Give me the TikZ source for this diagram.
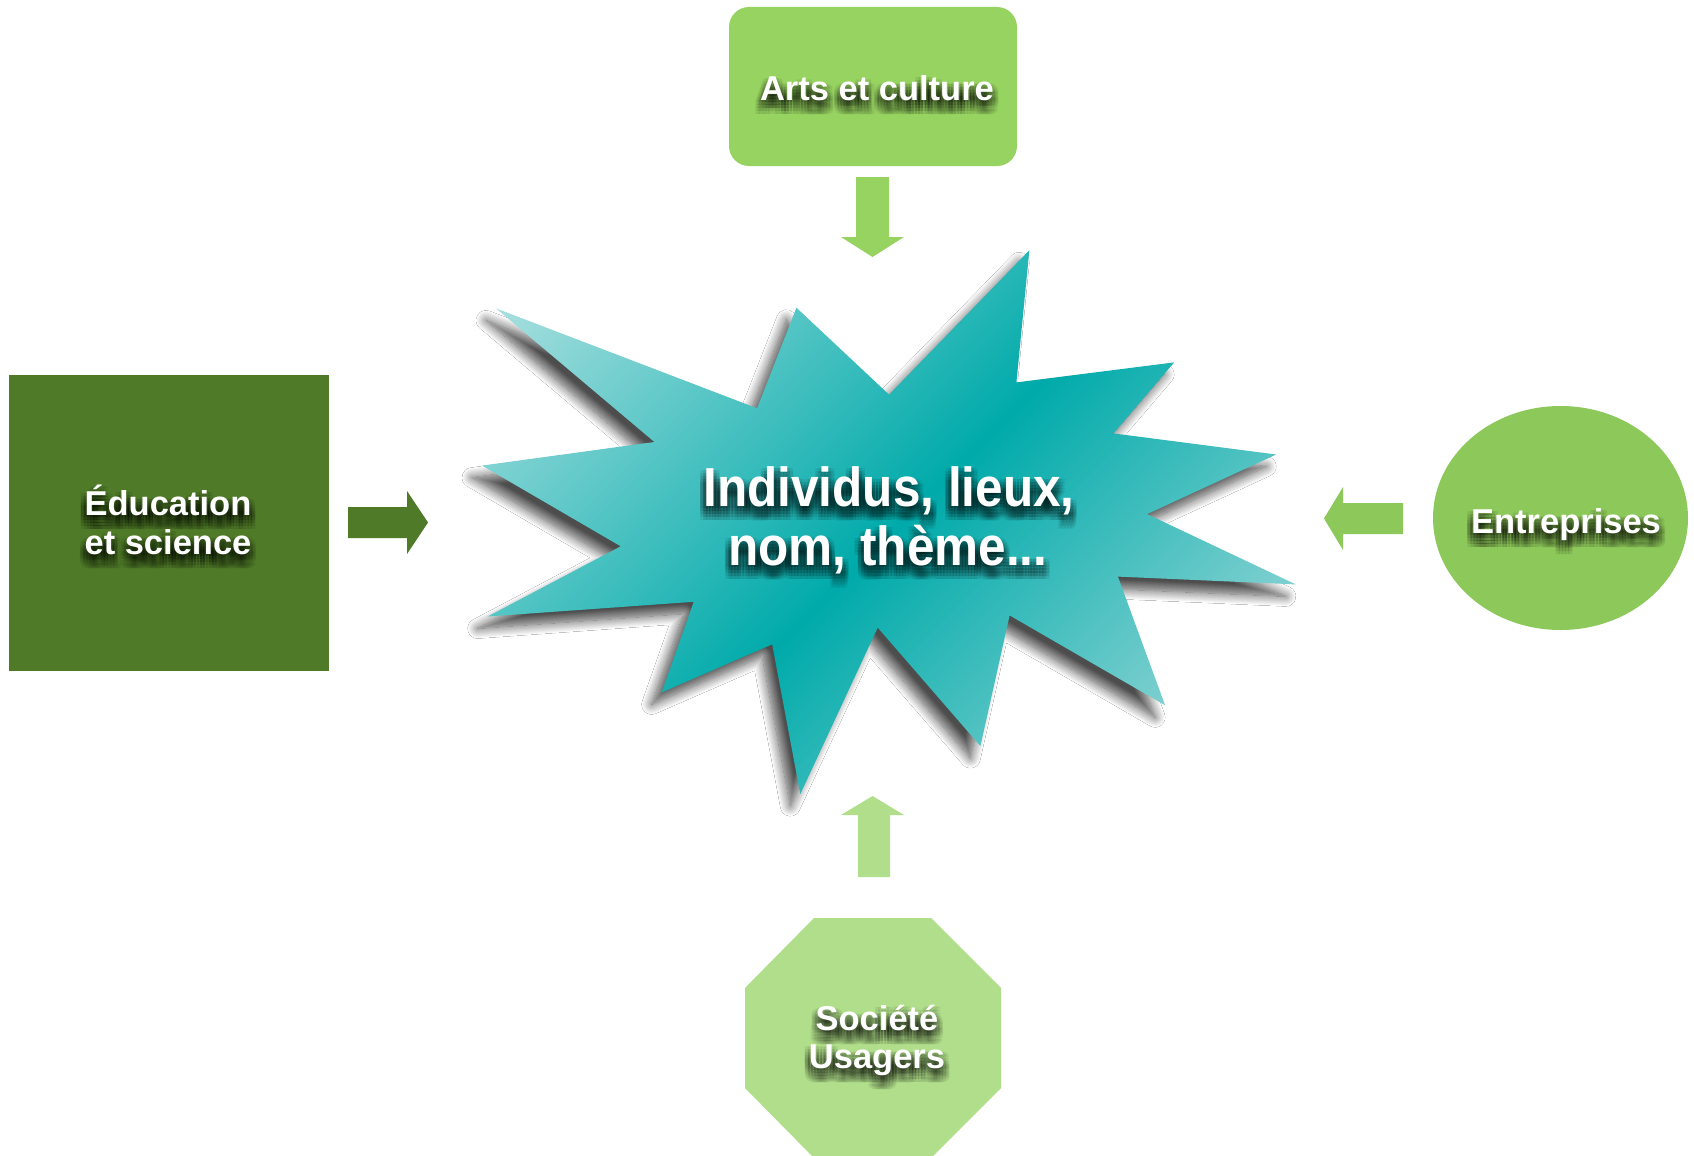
\documentclass[tikz,border=0pt]{standalone}
\usepackage{fontspec}
\setmainfont{Liberation Sans}
\newfontfamily\starfamily[FakeStretch=0.9]{Liberation Sans}
\usetikzlibrary{shapes.geometric,shadows.blur}
\definecolor{starL}{HTML}{A8DFDF}
\definecolor{starM}{HTML}{00AAAA}
\definecolor{starR}{HTML}{80D0D0}
\definecolor{eduC}{HTML}{4F7A28}
\definecolor{artsC}{HTML}{97D361}
\definecolor{entrC}{HTML}{8DC85A}
\definecolor{socC}{HTML}{B0DE8A}
\pgfdeclarehorizontalshading{starshade}{100bp}{color(0bp)=(starL); color(25bp)=(starL); color(53.8bp)=(starM); color(75bp)=(starR); color(100bp)=(starR)}
\newcommand\lblfont{\bfseries\fontsize{34.5}{39}\selectfont}
\newcommand\bigfont{\starfamily\bfseries\fontsize{55}{59}\selectfont}
\newcommand\starpath{(496.1,308.4) -- (757.1,408.3) -- (796.4,307.7) -- (889.0,394.6) -- (1029.3,250.3)
  -- (1016.4,382.4) -- (1174.1,362.4) -- (1113.4,433.4) -- (1276.2,454.5) -- (1147.1,514.1)
  -- (1295.8,584.4) -- (1117.9,576.6) -- (1165.1,705.3) -- (1009.6,615.4) -- (980.4,746.0)
  -- (877.7,627.6) -- (800.3,794.1) -- (772.2,644.3) -- (661.7,692.4) -- (693.7,601.8)
  -- (487.7,616.5) -- (620.7,546.3) -- (482.1,465.6) -- (654.4,442.0) -- cycle}
% label: soft text-shaped shadow (faint offset copies), then white text
\newcommand\lbl[5]{%
  \foreach \dx in {-6,-3,0,3,6}{\foreach \dy in {2,5,8,11,14}{%
    \node[shtxt,font=#4,name=#1-sh-\dx-\dy] at (#2+\dx,#3+\dy) {#5};}}%
  \node[lbltxt,font=#4] (#1) at (#2,#3) {#5};}
\tikzset{
  shtxt/.style={anchor=base,inner sep=0pt,text=black,text opacity=0.07},
  lbltxt/.style={anchor=base,inner sep=0pt,text=white},
  boxshape/.style={inner sep=0pt,draw=none}
}
\begin{document}
\begin{tikzpicture}[x=1pt,y=-1pt]
\useasboundingbox[fill=white] (0,0) rectangle (1694,1156);
% shapes
\node[boxshape,rectangle,fill=eduC,minimum width=320pt,minimum height=296pt] (edu) at (169,523) {};
\node[boxshape,rectangle,rounded corners=20pt,fill=artsC,minimum width=288pt,minimum height=159pt] (arts) at (873,86.5) {};
\node[boxshape,ellipse,fill=entrC,minimum width=255pt,minimum height=224pt] (entr) at (1560.5,518) {};
\fill[socC] (814,918) -- (931,918) -- (1001,988) -- (1001,1088) -- (931,1158) -- (814,1158) -- (745,1088) -- (745,988) -- cycle;
% star: shadow, then gradient fill
\path[blur shadow={shadow xshift=-10pt,shadow yshift=-12pt,shadow blur radius=10pt,shadow blur steps=14,shadow opacity=70}] \starpath;
\begin{scope}
  \clip \starpath;
  \shade[shading=starshade,transform canvas={shift={(917,508)},rotate=-45}] (-439,-700) rectangle (322,700);
\end{scope}
% block arrows
\fill[eduC] (348,507) -- (407,507) -- (407,491) -- (428,522.5) -- (407,554) -- (407,538) -- (348,538) -- cycle;
\fill[entrC] (1403,503) -- (1343,503) -- (1343,487) -- (1324,518.5) -- (1343,550) -- (1343,534) -- (1403,534) -- cycle;
\fill[artsC] (856,177) -- (889,177) -- (889,237) -- (904,237) -- (872.5,257) -- (841,237) -- (856,237) -- cycle;
\fill[socC] (858,877) -- (890,877) -- (890,815) -- (904,815) -- (872.5,796) -- (841,815) -- (858,815) -- cycle;
% labels
\lbl{artsT}{877}{100}{\lblfont}{Arts et culture}
\lbl{eduA}{168}{515}{\lblfont}{Éducation}
\lbl{eduB}{168}{554}{\lblfont}{et science}
\lbl{entrT}{1566}{533}{\lblfont}{Entreprises}
\lbl{socA}{877}{1030}{\lblfont}{Société}
\lbl{socB}{877}{1068}{\lblfont}{Usagers}
\lbl{starA}{889}{506}{\bigfont}{Individus, lieux,}
\lbl{starB}{888}{565}{\bigfont}{nom, thème...}
\end{tikzpicture}
\end{document}
